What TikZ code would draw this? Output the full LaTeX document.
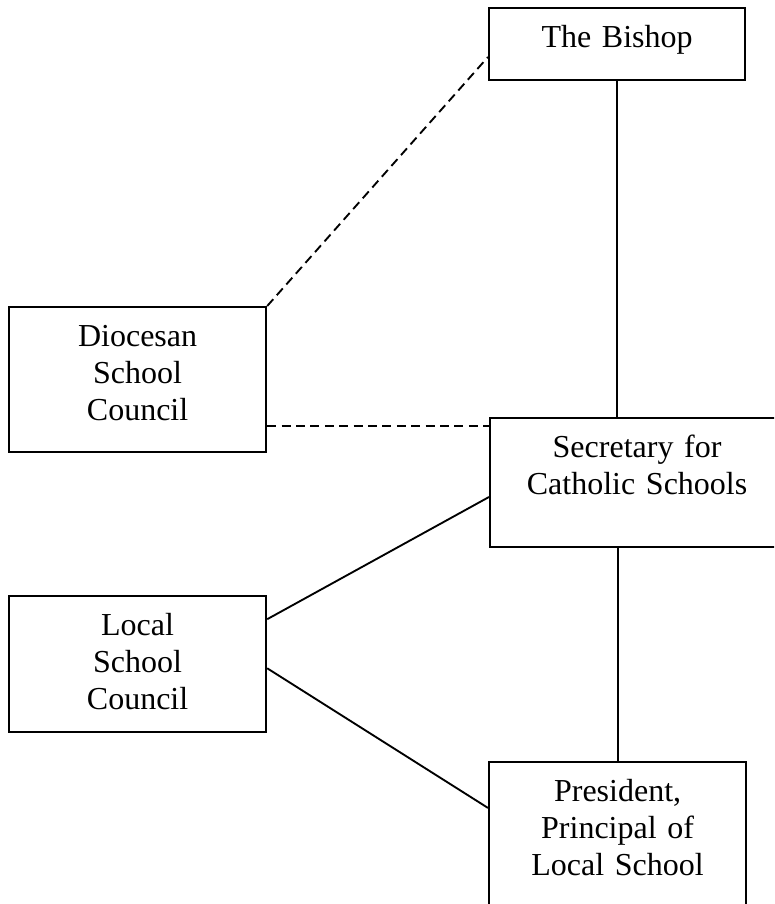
\documentclass[tikz,border=0pt]{standalone}
\usepackage{fontspec}
\setmainfont{Liberation Serif}
\usetikzlibrary{positioning}

\begin{document}
\begin{tikzpicture}[
  x=0.375pt, y=-0.375pt,
  unit/.style={rectangle, draw=black, line width=0.8pt, anchor=north west, inner sep=0pt, align=center, text height=14.8pt, font=\fontsize{12pt}{13.8pt}\selectfont},
  link/.style={line width=0.7pt},
  advisory/.style={link, dash pattern=on 3.4pt off 2pt}
]
\useasboundingbox (0,0) rectangle (774,904);
\clip (0,0) rectangle (774,904);

% Units
\node[unit, text width=96pt, text depth=12.2pt] (bishop) at (488,7) {The Bishop};
\node[unit, text width=96.4pt, text depth=39.6pt] (diocesan) at (8,306) {Diocesan\\School\\Council};
\node[unit, text width=110.25pt, text depth=33.6pt] (secretary) at (489,417) {Secretary for\\Catholic Schools};
\node[unit, text width=96.4pt, text depth=36.2pt, below=53.25pt of diocesan] (local) {Local\\School\\Council};
\node[unit, text width=96.4pt, text depth=42pt] (president) at (488,761) {President,\\Principal of\\Local School};

% Lines of authority
\draw[link] (bishop) -- (bishop |- secretary.north);
\draw[link] (president.north |- secretary.south) -- (president);
\draw[link] ([yshift=-9pt]local.north east) -- ([yshift=-30pt]secretary.north west);
\draw[link] ([yshift=-27.4pt]local.north east) -- ([yshift=-17.6pt]president.north west);

% Advisory links
\draw[advisory] (diocesan.north east) -- ([yshift=-18.75pt]bishop.north west);
\draw[advisory] ([yshift=-45pt]diocesan.north east) -- ([yshift=-45pt]diocesan.north east -| secretary.west);

\end{tikzpicture}
\end{document}
